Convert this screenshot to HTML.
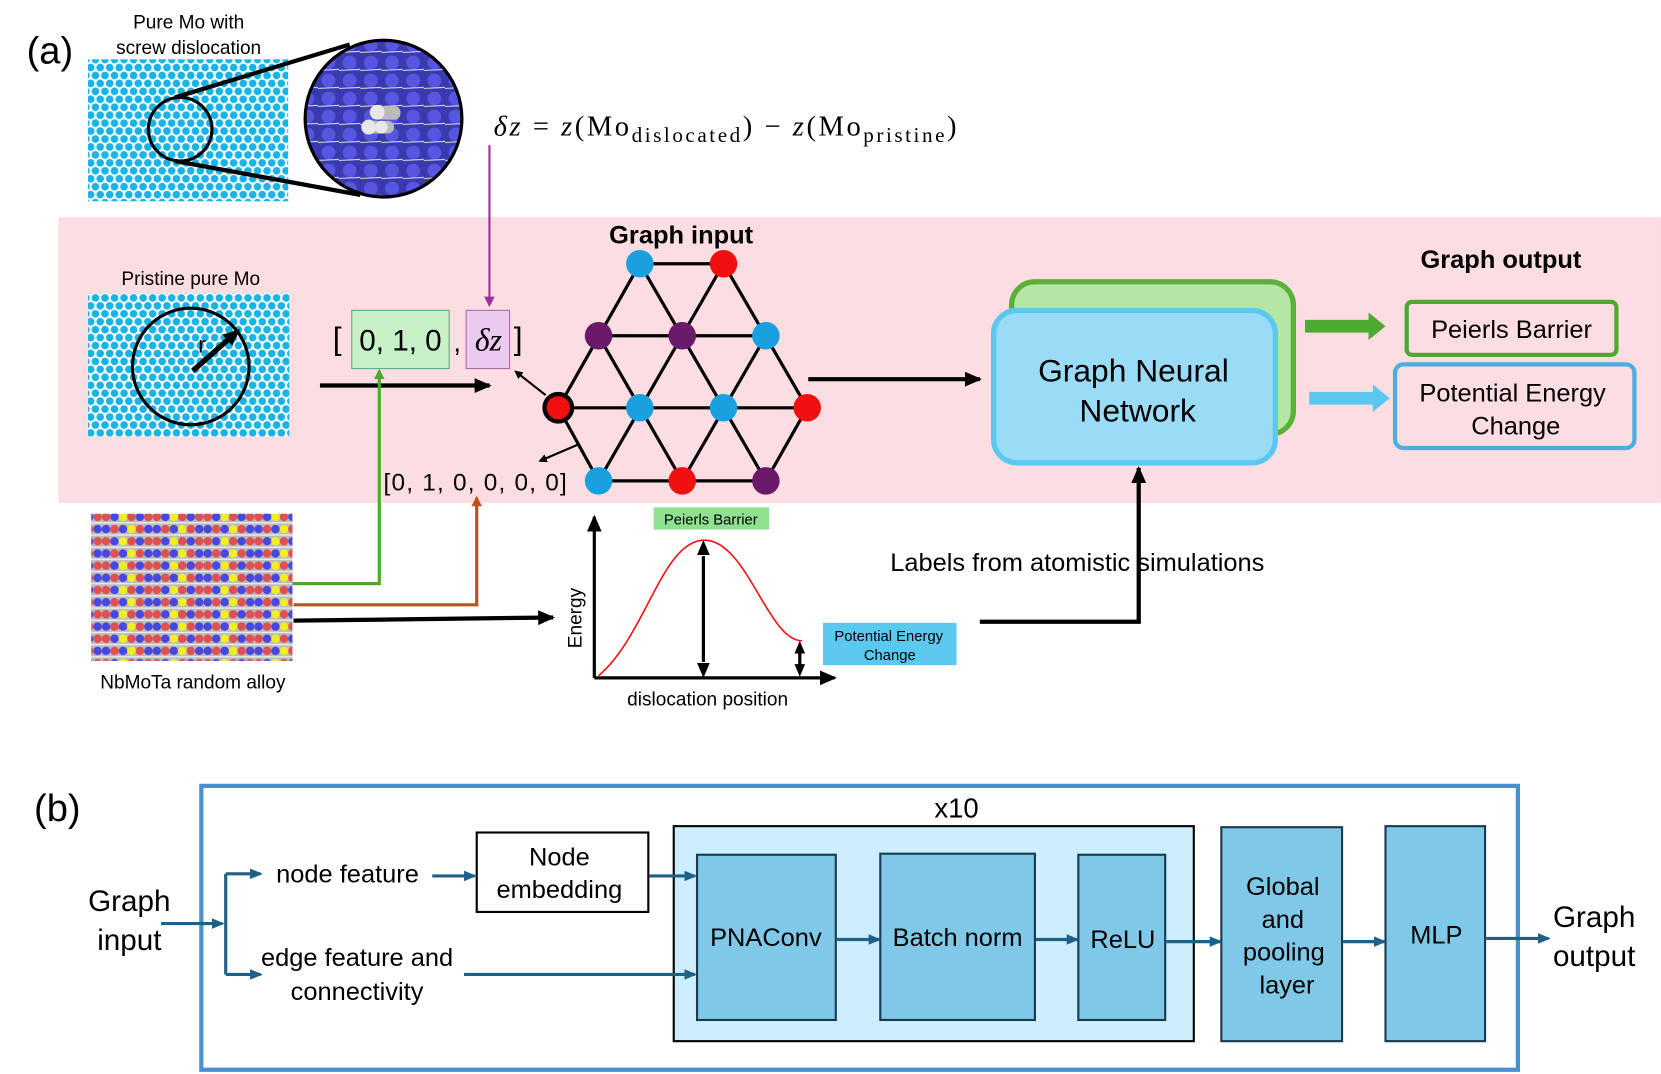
<!DOCTYPE html>
<html><head><meta charset="utf-8"><style>
html,body{margin:0;padding:0;background:#fff;width:1661px;height:1074px;overflow:hidden}
svg{display:block}
text{font-family:"Liberation Sans",sans-serif}
text.serif{font-family:"Liberation Serif",serif}
</style></head><body>
<svg width="1661" height="1074" viewBox="0 0 1568 1014" xmlns="http://www.w3.org/2000/svg">
<defs>
<pattern id="lat" width="9" height="15" patternUnits="userSpaceOnUse">
<rect width="9" height="15" fill="#fff"/>
<circle cx="4.5" cy="3.75" r="3.6" fill="#19b4e6"/>
<circle cx="0" cy="11.25" r="3.6" fill="#19b4e6"/>
<circle cx="9" cy="11.25" r="3.6" fill="#19b4e6"/>
</pattern>
<pattern id="blue" width="20" height="17" patternUnits="userSpaceOnUse">
<rect width="20" height="17" fill="#3a3ab0"/>
<circle cx="10" cy="8" r="6.5" fill="#5656e0"/>
<line x1="0" y1="15.5" x2="20" y2="14.5" stroke="#ddd" stroke-width="1"/>
</pattern>
<pattern id="alloy" width="48" height="23" patternUnits="userSpaceOnUse">
<rect width="48" height="23" fill="#bbb"/>
<rect y="10" width="48" height="1.2" fill="#eee"/><rect y="21.5" width="48" height="1.2" fill="#eee"/>
<circle cx="4" cy="5" r="4" fill="#e05050"/><circle cx="12" cy="5" r="4" fill="#4848e0"/><circle cx="20" cy="5" r="4" fill="#f0f020"/><circle cx="28" cy="5" r="4" fill="#e05050"/><circle cx="36" cy="5" r="4" fill="#4848e0"/><circle cx="44" cy="5" r="4" fill="#e05050"/>
<circle cx="4" cy="16.5" r="4" fill="#4848e0"/><circle cx="12" cy="16.5" r="4" fill="#e05050"/><circle cx="20" cy="16.5" r="4" fill="#4848e0"/><circle cx="28" cy="16.5" r="4" fill="#f0f020"/><circle cx="36" cy="16.5" r="4" fill="#e05050"/><circle cx="44" cy="16.5" r="4" fill="#4848e0"/>
</pattern>
<marker id="ak" markerWidth="8" markerHeight="8" refX="6" refY="4" orient="auto" markerUnits="userSpaceOnUse"><path d="M0,0 L8,4 L0,8 z" fill="#000"/></marker>
<marker id="akb" markerWidth="16" markerHeight="14" refX="14" refY="7" orient="auto" markerUnits="userSpaceOnUse"><path d="M0,0 L16,7 L0,14 z" fill="#000"/></marker>
<marker id="ab" markerWidth="12" markerHeight="10" refX="10" refY="5" orient="auto" markerUnits="userSpaceOnUse"><path d="M0,0 L12,5 L0,10 z" fill="#1f6088"/></marker>
<marker id="ap" markerWidth="10" markerHeight="10" refX="8" refY="5" orient="auto" markerUnits="userSpaceOnUse"><path d="M0,0 L10,5 L0,10 z" fill="#a030a0"/></marker>
<marker id="ag" markerWidth="10" markerHeight="10" refX="8" refY="5" orient="auto" markerUnits="userSpaceOnUse"><path d="M0,0 L10,5 L0,10 z" fill="#4caa30"/></marker>
<marker id="ao" markerWidth="10" markerHeight="10" refX="8" refY="5" orient="auto" markerUnits="userSpaceOnUse"><path d="M0,0 L10,5 L0,10 z" fill="#c05020"/></marker>
</defs>

<rect x="55" y="205" width="1513" height="270" fill="#fcdde1"/>

<text x="25" y="60" font-size="36">(a)</text>
<text x="178" y="27" font-size="18" text-anchor="middle">Pure Mo with</text>
<text x="178" y="51" font-size="18" text-anchor="middle">screw dislocation</text>
<rect x="83" y="56" width="189" height="134" fill="url(#lat)"/>
<circle cx="362" cy="112" r="74" fill="url(#blue)" stroke="#000" stroke-width="3"/>
<g fill="#e8e8e8"><rect x="352" y="100" width="26" height="13" rx="6" fill="#bbb"/><rect x="344" y="114" width="28" height="12" rx="6" fill="#bbb"/><circle cx="356" cy="106" r="7"/><circle cx="348" cy="120" r="7"/><circle cx="360" cy="120" r="6"/></g>
<line x1="165" y1="92" x2="330" y2="42" stroke="#000" stroke-width="4"/>
<line x1="165" y1="152" x2="340" y2="184" stroke="#000" stroke-width="4"/>
<circle cx="170" cy="122" r="30" fill="none" stroke="#000" stroke-width="3"/>

<text x="466" y="128" font-size="27" class="serif" textLength="437" lengthAdjust="spacing"><tspan font-style="italic">δz</tspan> = <tspan font-style="italic">z</tspan>(Mo<tspan font-size="20" dy="6">dislocated</tspan><tspan dy="-6">) − </tspan><tspan font-style="italic">z</tspan>(Mo<tspan font-size="20" dy="6">pristine</tspan><tspan dy="-6">)</tspan></text>
<line x1="462" y1="137" x2="462" y2="288" stroke="#a030a0" stroke-width="2" marker-end="url(#ap)"/>

<text x="180" y="269" font-size="18" text-anchor="middle">Pristine pure Mo</text>
<rect x="83" y="277" width="190" height="135" fill="url(#lat)"/>
<circle cx="180" cy="346" r="55" fill="none" stroke="#000" stroke-width="3"/>
<line x1="182" y1="350" x2="225" y2="312" stroke="#000" stroke-width="5" marker-end="url(#akb)"/>
<text x="187" y="333" font-size="22">r</text>
<line x1="302" y1="364" x2="462" y2="364" stroke="#000" stroke-width="4" marker-end="url(#akb)"/>

<text x="314" y="330" font-size="30">[</text>
<rect x="332" y="293" width="92" height="55" fill="#c6f0c6" stroke="#5a8" stroke-width="1"/>
<text x="378" y="331" font-size="28" text-anchor="middle">0, 1, 0</text>
<text x="428" y="332" font-size="26">,</text>
<rect x="440" y="293" width="41" height="55" fill="#ecc9ee" stroke="#a6a" stroke-width="1"/>
<text x="461" y="331" font-size="30" text-anchor="middle" class="serif" font-style="italic">δz</text>
<text x="485" y="330" font-size="30">]</text>
<text x="362" y="463" font-size="23" textLength="173" lengthAdjust="spacing">[0, 1, 0, 0, 0, 0]</text>

<polyline points="262,551 358,551 358,350" fill="none" stroke="#4caa30" stroke-width="3" marker-end="url(#ag)"/>
<polyline points="277,571 450,571 450,470" fill="none" stroke="#c05020" stroke-width="3" marker-end="url(#ao)"/>

<text x="643" y="230" font-size="24" font-weight="bold" text-anchor="middle">Graph input</text>
<g stroke="#000" stroke-width="3">
<line x1="604" y1="249" x2="683" y2="249"/>
<line x1="565" y1="317" x2="723" y2="317"/>
<line x1="527" y1="385" x2="762" y2="385"/>
<line x1="565" y1="454" x2="723" y2="454"/>
<line x1="604" y1="249" x2="527" y2="385"/><line x1="683" y1="249" x2="565" y2="454"/><line x1="723" y1="317" x2="644" y2="454"/><line x1="762" y1="385" x2="723" y2="454"/>
<line x1="604" y1="249" x2="723" y2="454"/><line x1="683" y1="249" x2="762" y2="385"/><line x1="565" y1="317" x2="644" y2="454"/><line x1="527" y1="385" x2="565" y2="454"/>
</g>
<g>
<circle cx="604" cy="249" r="13" fill="#1aa0de"/><circle cx="683" cy="249" r="13" fill="#f01010"/>
<circle cx="565" cy="317" r="13" fill="#6a1a68"/><circle cx="644" cy="317" r="13" fill="#6a1a68"/><circle cx="723" cy="317" r="13" fill="#1aa0de"/>
<circle cx="527" cy="385" r="13" fill="#f01010" stroke="#000" stroke-width="4"/><circle cx="604" cy="385" r="13" fill="#1aa0de"/><circle cx="683" cy="385" r="13" fill="#1aa0de"/><circle cx="762" cy="385" r="13" fill="#f01010"/>
<circle cx="565" cy="454" r="13" fill="#1aa0de"/><circle cx="644" cy="454" r="13" fill="#f01010"/><circle cx="723" cy="454" r="13" fill="#6a1a68"/>
</g>
<line x1="515" y1="373" x2="487" y2="351" stroke="#000" stroke-width="2" marker-end="url(#ak)"/>
<line x1="545" y1="420" x2="510" y2="435" stroke="#000" stroke-width="2" marker-end="url(#ak)"/>
<line x1="763" y1="358" x2="925" y2="358" stroke="#000" stroke-width="4" marker-end="url(#akb)"/>

<rect x="955" y="266" width="266" height="144" rx="22" fill="#b5e6a5" stroke="#5bb03a" stroke-width="5"/>
<rect x="938" y="293" width="266" height="144" rx="22" fill="#9adcf6" stroke="#5bc8f0" stroke-width="5"/>
<text x="1070" y="360" font-size="30" text-anchor="middle">Graph Neural</text>
<text x="1074" y="398" font-size="30" text-anchor="middle">Network</text>
<polygon points="1232,302 1292,302 1292,295 1308,308 1292,321 1292,314 1232,314" fill="#4caa30"/>
<polygon points="1236,370 1296,370 1296,363 1312,376 1296,389 1296,382 1236,382" fill="#5bc8f0"/>
<text x="1417" y="253" font-size="24" font-weight="bold" text-anchor="middle">Graph output</text>
<rect x="1328" y="285" width="198" height="50" rx="5" fill="none" stroke="#4caa30" stroke-width="4"/>
<text x="1427" y="319" font-size="24" text-anchor="middle">Peierls Barrier</text>
<rect x="1317" y="344" width="226" height="79" rx="8" fill="none" stroke="#4aaee0" stroke-width="4"/>
<text x="1428" y="379" font-size="24" text-anchor="middle">Potential Energy</text>
<text x="1431" y="410" font-size="24" text-anchor="middle">Change</text>

<rect x="86" y="485" width="190" height="139" fill="url(#alloy)"/>
<text x="182" y="650" font-size="18" text-anchor="middle">NbMoTa random alloy</text>
<line x1="277" y1="586" x2="522" y2="583" stroke="#000" stroke-width="4" marker-end="url(#akb)"/>

<line x1="561" y1="640" x2="561" y2="488" stroke="#000" stroke-width="3" marker-end="url(#akb)"/>
<line x1="561" y1="640" x2="788" y2="640" stroke="#000" stroke-width="3" marker-end="url(#akb)"/>
<text transform="translate(549,612) rotate(-90)" font-size="18">Energy</text>
<path d="M565,638 C610,600 625,510 665,510 C705,510 725,605 757,605" fill="none" stroke="#f01010" stroke-width="1.5"/>
<line x1="664" y1="525" x2="664" y2="625" stroke="#000" stroke-width="3"/>
<path d="M664,510 l-6,14 h12z M664,640 l-6,-14 h12z" fill="#000"/>
<line x1="755" y1="616" x2="755" y2="628" stroke="#000" stroke-width="3"/>
<path d="M755,605 l-5,12 h10z M755,639 l-5,-12 h10z" fill="#000"/>
<rect x="617" y="479" width="109" height="21" fill="#8fe08f"/>
<text x="671" y="495" font-size="14" text-anchor="middle">Peierls Barrier</text>
<rect x="777" y="588" width="126" height="40" fill="#5bc8f0"/>
<text x="839" y="605" font-size="14" text-anchor="middle">Potential Energy</text>
<text x="840" y="623" font-size="14" text-anchor="middle">Change</text>
<text x="668" y="666" font-size="18" text-anchor="middle">dislocation position</text>
<text x="1017" y="539" font-size="24" text-anchor="middle">Labels from atomistic simulations</text>
<polyline points="925,587 1075,587 1075,442" fill="none" stroke="#000" stroke-width="4" marker-end="url(#akb)"/>

<text x="32" y="775" font-size="36">(b)</text>
<rect x="190" y="742" width="1243" height="268" fill="none" stroke="#4a90d0" stroke-width="4"/>
<text x="122" y="860" font-size="28" text-anchor="middle">Graph</text>
<text x="122" y="897" font-size="28" text-anchor="middle">input</text>
<text x="328" y="833" font-size="24" text-anchor="middle">node feature</text>
<text x="337" y="912" font-size="24" text-anchor="middle">edge feature and</text>
<text x="337" y="944" font-size="24" text-anchor="middle">connectivity</text>
<rect x="450" y="786" width="162" height="75" fill="#fff" stroke="#000" stroke-width="2"/>
<text x="528" y="817" font-size="24" text-anchor="middle">Node</text>
<text x="528" y="848" font-size="24" text-anchor="middle">embedding</text>
<text x="903" y="772" font-size="26" text-anchor="middle">x10</text>
<rect x="636" y="780" width="491" height="203" fill="#cdeefc" stroke="#000" stroke-width="2"/>
<g fill="#7fc8e8" stroke="#1a3a50" stroke-width="2">
<rect x="658" y="807" width="131" height="156"/>
<rect x="831" y="806" width="146" height="157"/>
<rect x="1018" y="807" width="82" height="156"/>
<rect x="1153" y="781" width="114" height="202"/>
<rect x="1308" y="780" width="94" height="203"/>
</g>
<g stroke="#1f6088" stroke-width="3" fill="none">
<line x1="152" y1="872" x2="210" y2="872" marker-end="url(#ab)"/>
<line x1="213" y1="825" x2="213" y2="920"/>
<line x1="213" y1="825" x2="246" y2="825" marker-end="url(#ab)"/>
<line x1="213" y1="920" x2="246" y2="920" marker-end="url(#ab)"/>
<line x1="408" y1="827" x2="448" y2="827" marker-end="url(#ab)"/>
<line x1="438" y1="920" x2="656" y2="920" marker-end="url(#ab)"/>
<line x1="613" y1="827" x2="656" y2="827" marker-end="url(#ab)"/>
<line x1="790" y1="887" x2="830" y2="887" marker-end="url(#ab)"/>
<line x1="978" y1="887" x2="1017" y2="887" marker-end="url(#ab)"/>
<line x1="1101" y1="889" x2="1152" y2="889" marker-end="url(#ab)"/>
<line x1="1268" y1="889" x2="1307" y2="889" marker-end="url(#ab)"/>
<line x1="1403" y1="886" x2="1462" y2="886" marker-end="url(#ab)"/>
</g>
<g font-size="24" text-anchor="middle">
<text x="723" y="893">PNAConv</text>
<text x="904" y="893">Batch norm</text>
<text x="1060" y="895">ReLU</text>
<text x="1211" y="845">Global</text>
<text x="1211" y="876">and</text>
<text x="1212" y="907">pooling</text>
<text x="1215" y="938">layer</text>
<text x="1356" y="891">MLP</text>
</g>
<text x="1505" y="875" font-size="28" text-anchor="middle">Graph</text>
<text x="1505" y="912" font-size="28" text-anchor="middle">output</text>
</svg>
</body></html>
